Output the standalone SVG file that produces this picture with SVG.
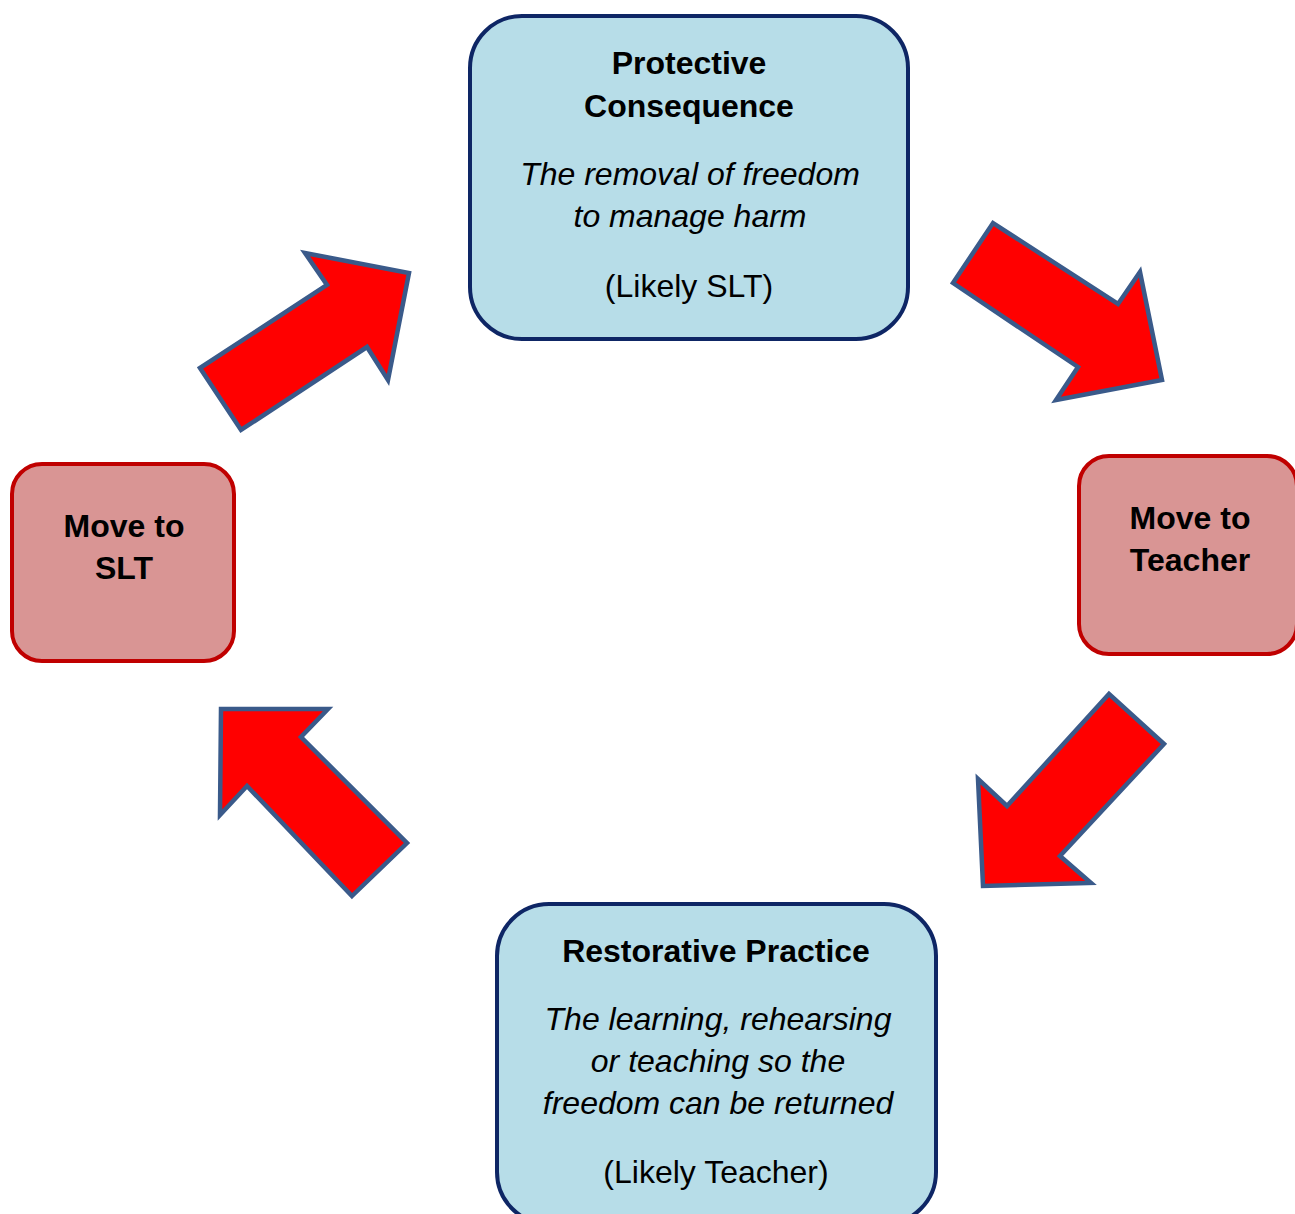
<svg xmlns="http://www.w3.org/2000/svg" width="1295" height="1214" viewBox="0 0 1295 1214">
<style>
.blue{fill:#B7DDE8;stroke:#0E2665;stroke-width:4}
.red{fill:#D99594;stroke:#C00000;stroke-width:4}
.arrow{fill:#FF0000;stroke:#3A5A8A;stroke-width:4.5;stroke-linejoin:miter}
text{font-family:"Liberation Sans",Arial,sans-serif;font-size:32px;fill:#000;text-anchor:middle}
.b{font-weight:bold}
.i{font-style:italic}
</style>
<rect width="1295" height="1214" fill="#fff"/>
<g id="connectors">
<polygon class="arrow" points="200,368 241,430 367,347 388,380 409,273 305,253 327,285"/>
<polygon class="arrow" points="953,283 993,223 1118,304 1140,272 1162,380 1056,400 1078,367"/>
<polygon class="arrow" points="1109,694 1164,744 1060,856 1091,883 983,886 978,779 1007,806"/>
<polygon class="arrow" points="352,896 407,843 301,737 328,709 221,709 220,815 247,786"/>
</g>
<g id="protective">
<rect class="blue" x="470" y="16" width="438" height="323" rx="52"/>
<text class="b" x="689" y="74">Protective</text>
<text class="b" x="689" y="117">Consequence</text>
<text class="i" x="690" y="185">The removal of freedom</text>
<text class="i" x="690" y="227">to manage harm</text>
<text x="689" y="297">(Likely SLT)</text>
</g>
<g id="teacher">
<rect class="red" x="1079" y="456" width="218" height="198" rx="30"/>
<text class="b" x="1190" y="529">Move to</text>
<text class="b" x="1190" y="571">Teacher</text>
</g>
<g id="restorative">
<rect class="blue" x="497" y="904" width="439" height="320" rx="52"/>
<text class="b" x="716" y="962">Restorative Practice</text>
<text class="i" x="718" y="1030">The learning, rehearsing</text>
<text class="i" x="718" y="1072">or teaching so the</text>
<text class="i" x="718" y="1114">freedom can be returned</text>
<text x="716" y="1183">(Likely Teacher)</text>
</g>
<g id="slt">
<rect class="red" x="12" y="464" width="222" height="197" rx="30"/>
<text class="b" x="124" y="537">Move to</text>
<text class="b" x="124" y="579">SLT</text>
</g>
</svg>
